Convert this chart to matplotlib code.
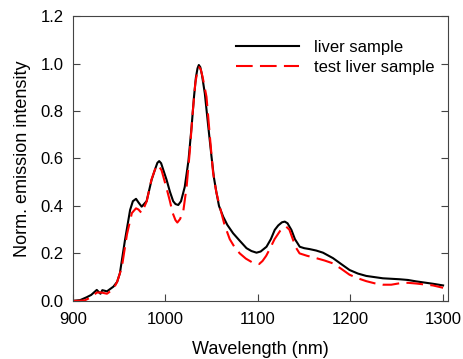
import matplotlib
matplotlib.use('Agg')
from matplotlib import pyplot as plt
from matplotlib.ticker import FormatStrFormatter

# liver sample (black, solid)
wl_liver = [900, 908, 915, 920, 926, 930, 932, 937, 944, 948, 951, 956.5, 962, 965, 968.4, 971, 974.5,
            979.8, 985.2, 989, 991.5, 993.4, 995.5, 998, 1001.4, 1005, 1008.5, 1011, 1014, 1017, 1021,
            1025, 1028.4, 1031, 1033, 1034.8, 1036.2, 1037.8, 1039.5, 1042.7, 1046, 1049.9, 1052.5,
            1055.3, 1058, 1062.5, 1067, 1073.2, 1080, 1087.7, 1093, 1098.5, 1103, 1109.3, 1114,
            1118.2, 1122, 1126, 1129, 1132, 1136.2, 1140, 1145.2, 1150, 1156, 1163, 1170.3, 1181.1,
            1190, 1199, 1208, 1217, 1235, 1253, 1262, 1271, 1289, 1300]
int_liver = [0.0, 0.003, 0.015, 0.025, 0.046, 0.03, 0.045, 0.04, 0.06, 0.08, 0.117, 0.257, 0.383, 0.42, 0.43, 0.415, 0.397,
             0.42, 0.51, 0.555, 0.582, 0.589, 0.58, 0.55, 0.51, 0.46, 0.42, 0.408, 0.404, 0.42, 0.48,
             0.59, 0.734, 0.86, 0.94, 0.98, 0.994, 0.985, 0.955, 0.874, 0.75, 0.608, 0.52,
             0.455, 0.4, 0.355, 0.32, 0.285, 0.255, 0.222, 0.21, 0.203, 0.208, 0.228, 0.26,
             0.299, 0.318, 0.331, 0.334, 0.327, 0.299, 0.26, 0.228, 0.222, 0.218, 0.212, 0.203, 0.18,
             0.155, 0.13, 0.115, 0.105, 0.095, 0.091, 0.088, 0.082, 0.072, 0.065]

# test liver sample (red, dashed)
wl_test = [900, 905, 913, 920, 926, 931, 937, 944, 948, 953, 958.6, 963.9, 968.4, 971, 974.5, 980, 985,
           989, 992.3, 996, 1001, 1005, 1008, 1011, 1013, 1016, 1019.5, 1023, 1026.6, 1029.5, 1032.5,
           1034.8, 1036.6, 1038.3, 1040.5, 1044.5, 1048, 1051.6, 1055, 1058.8, 1064, 1069.6, 1075,
           1080.4, 1087, 1094.8, 1101.3, 1105, 1109, 1113, 1118, 1124, 1128, 1130.5, 1134, 1137.7,
           1141, 1145, 1153, 1163, 1172, 1181, 1190, 1199, 1208, 1217, 1226, 1235, 1244, 1253,
           1262, 1271, 1289, 1300]
int_test = [0.0, 0.0, 0.002, 0.015, 0.035, 0.035, 0.03, 0.05, 0.08, 0.14, 0.28, 0.37, 0.39, 0.385, 0.37, 0.42, 0.51,
            0.555, 0.573, 0.55, 0.48, 0.42, 0.37, 0.34, 0.33, 0.345, 0.38, 0.48, 0.636, 0.79, 0.92,
            0.97, 0.985, 0.975, 0.94, 0.86, 0.7, 0.54, 0.46, 0.397, 0.32, 0.26, 0.225,
            0.2, 0.178, 0.16, 0.155, 0.168, 0.19, 0.22, 0.26, 0.295, 0.31, 0.313, 0.3, 0.26,
            0.225, 0.2, 0.19, 0.18, 0.17, 0.158, 0.135, 0.11, 0.095, 0.083, 0.074, 0.068, 0.068, 0.074,
            0.076, 0.073, 0.065, 0.055]

labels = ['liver sample', 'test liver sample']

plt.rcParams['font.family'] = ['Liberation Sans', 'DejaVu Sans']
plt.rcParams['font.size'] = 12

fig = plt.figure(figsize=(4.63, 3.59), dpi=100)
ax = fig.add_axes([0.157, 0.162, 0.81, 0.793])

ax.plot(wl_liver, int_liver, color='black', lw=1.5, label=labels[0])
ax.plot(wl_test, int_test, color='red', lw=1.5, dashes=(8, 3.5), label=labels[1])

ax.set_xlim(900, 1305)
ax.set_ylim(0, 1.2)
ax.set_xticks([900, 1000, 1100, 1200, 1300])
ax.set_yticks([0, 0.2, 0.4, 0.6, 0.8, 1.0, 1.2])
ax.yaxis.set_major_formatter(FormatStrFormatter('%.1f'))
ax.tick_params(direction='in', length=5, right=True, labelsize=12, color='#444444')
ax.tick_params(axis='x', pad=8)
ax.tick_params(axis='y', pad=6.5)
for s in ax.spines.values():
    s.set_color('#444444')

ax.set_xlabel('Wavelength (nm)', fontsize=13, labelpad=10)
ax.set_ylabel('Norm. emission intensity', fontsize=13, labelpad=7)

ax.legend(loc='upper right', frameon=False, handlelength=3.8, handletextpad=0.9,
          labelspacing=0.3, fontsize=12, bbox_to_anchor=(1.006, 0.97))

fig.savefig('out.png', dpi=100)
